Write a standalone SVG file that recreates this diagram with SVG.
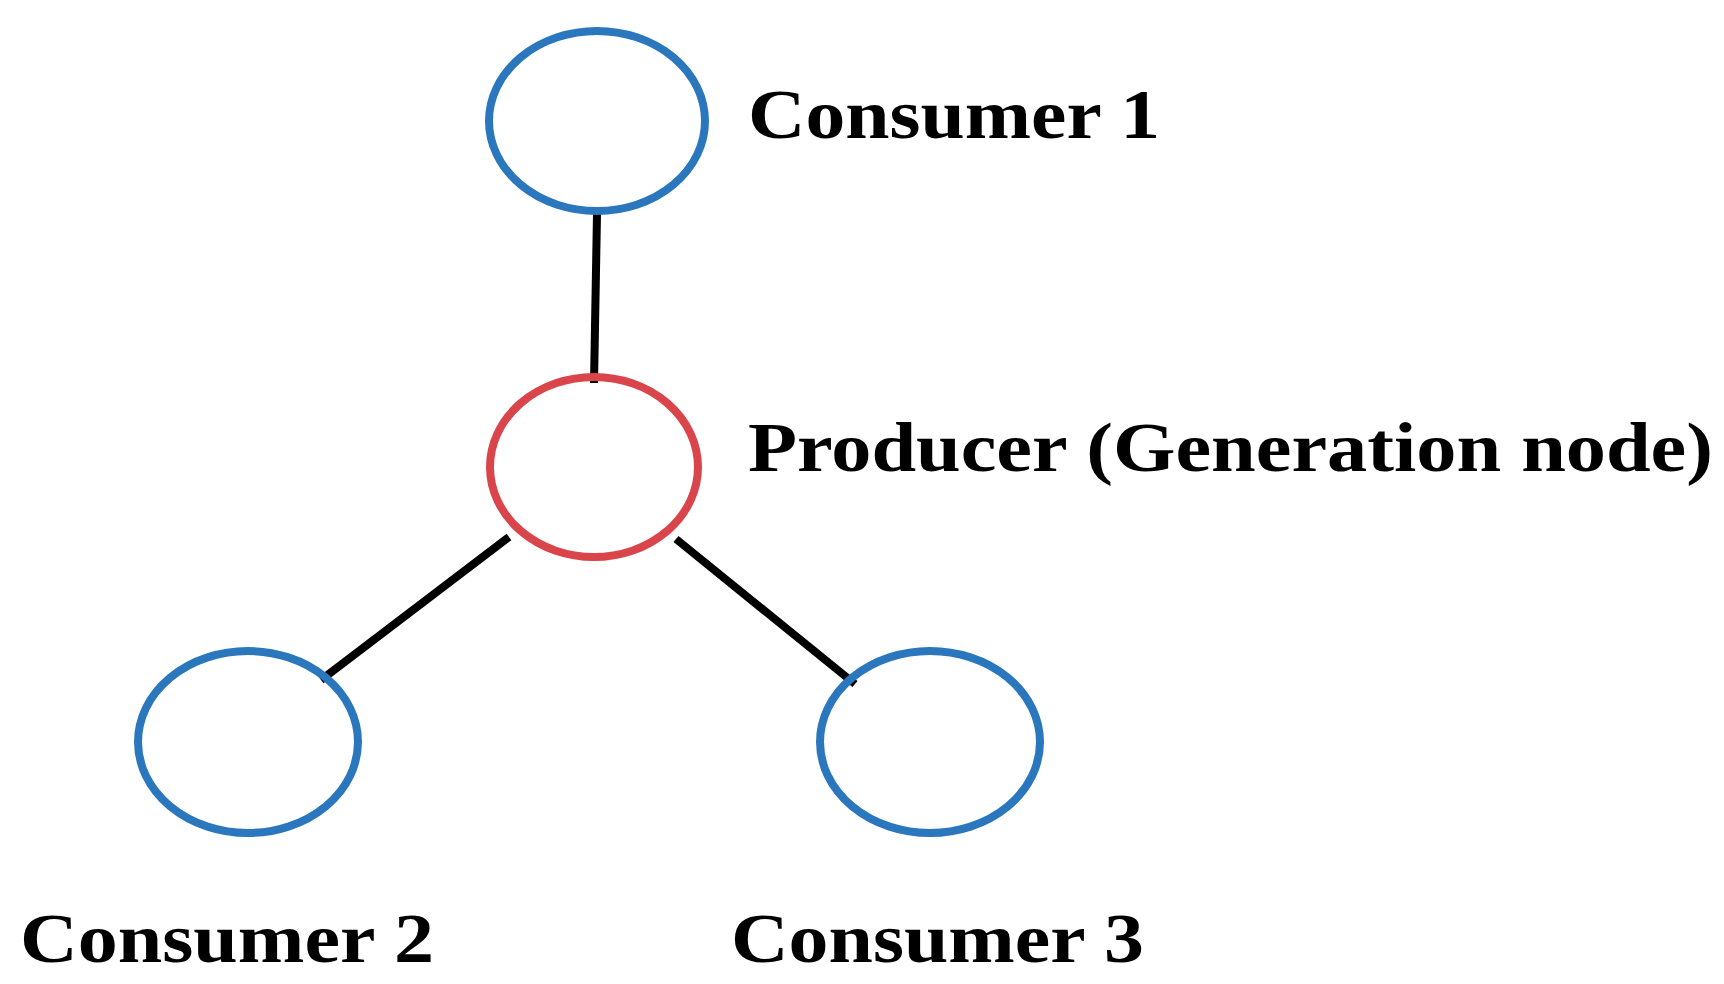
<svg xmlns="http://www.w3.org/2000/svg" width="1724" height="984" viewBox="0 0 1724 984">
<style>
.c{fill:none;stroke:#2a77bd;stroke-width:8}
.p{fill:none;stroke:#d9454a;stroke-width:8}
.e{stroke:#000;stroke-width:8}
text{font-family:"Liberation Serif",serif;font-weight:bold;font-size:70px;fill:#000}
</style>
<rect width="1724" height="984" fill="#fff"/>
<g id="connectors">
<line class="e" x1="597" y1="214" x2="594" y2="383"/>
<line class="e" x1="509" y1="537" x2="321" y2="680"/>
<line class="e" x1="676" y1="539" x2="855" y2="684"/>
</g>
<g id="consumer1"><ellipse class="c" cx="597" cy="121" rx="108" ry="90"/><text x="748" y="138" textLength="412" lengthAdjust="spacingAndGlyphs">Consumer 1</text></g>
<g id="producer"><ellipse class="p" cx="594" cy="467" rx="104" ry="90"/><text x="748" y="471" textLength="965" lengthAdjust="spacingAndGlyphs">Producer (Generation node)</text></g>
<g id="consumer2"><ellipse class="c" cx="248" cy="742" rx="110" ry="91"/><text x="20" y="962" textLength="414" lengthAdjust="spacingAndGlyphs">Consumer 2</text></g>
<g id="consumer3"><ellipse class="c" cx="930" cy="742" rx="110" ry="91"/><text x="731" y="962" textLength="413" lengthAdjust="spacingAndGlyphs">Consumer 3</text></g>
</svg>
